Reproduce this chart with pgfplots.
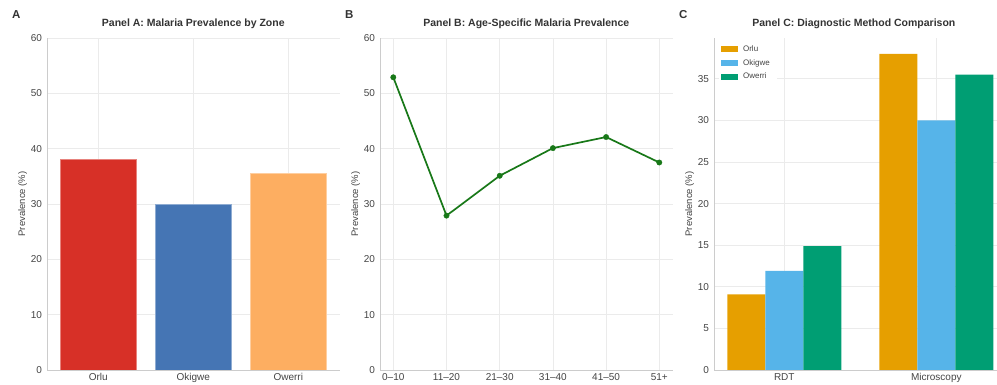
\documentclass[border=0pt]{standalone}
\usepackage{fontspec}
\setmainfont{Liberation Sans}
\usepackage{pgfplots}
\pgfplotsset{compat=1.18}
\definecolor{gridc}{HTML}{EBEBEB}
\definecolor{axc}{HTML}{CCCCCC}
\definecolor{tickc}{HTML}{444444}
\definecolor{titc}{HTML}{333333}
\definecolor{cOrluA}{HTML}{D73027}
\definecolor{cOkigweA}{HTML}{4575B4}
\definecolor{cOwerriA}{HTML}{FDAE61}
\definecolor{lineg}{HTML}{187818}
\definecolor{cOrlu}{HTML}{E69F00}
\definecolor{cOkigwe}{HTML}{56B4E9}
\definecolor{cOwerri}{HTML}{009E73}
\pgfplotsset{
  myaxis/.style={
    scale only axis, width=292.6pt, height=332pt,
    anchor=south west,
    axis x line*=bottom, axis y line*=left,
    axis line style={-, draw=axc, line width=0.8pt},
    major tick length=0pt,
    grid=major, major grid style={draw=gridc, line width=0.8pt},
    tick label style={font=\fontsize{10}{12}\selectfont, text=tickc},
    yticklabel style={xshift=-1.5pt},
    /pgf/number format/assume math mode=true,
    ylabel={Prevalence (\%)},
    ylabel style={font=\fontsize{9.5}{11}\selectfont, text=tickc, at={(axis description cs:-0.083,0.5)}, anchor=center},
    title style={font=\bfseries\fontsize{10.5}{12}\selectfont, text=titc, at={(axis description cs:0.5,1)}, anchor=base, yshift=5pt},
    ymin=0,
  }
}
\begin{document}
\begin{tikzpicture}[x=1pt,y=1pt]
\useasboundingbox (0,0) rectangle (997,385);
% Panel A
\begin{axis}[myaxis, at={(47pt,15pt)},
  title={Panel A: Malaria Prevalence by Zone},
  xmin=-0.54, xmax=2.54, ymax=60, ytick={0,10,20,30,40,50,60},
  xtick={0,1,2}, xticklabels={Orlu,Okigwe,Owerri},
  ybar, bar width=0.8, bar shift=0pt]
\addplot[fill=cOrluA, draw=cOrluA!60!white, line width=0.6pt] coordinates {(0,38.0)};
\addplot[fill=cOkigweA, draw=cOkigweA!60!white, line width=0.6pt] coordinates {(1,30.0)};
\addplot[fill=cOwerriA, draw=cOwerriA!60!white, line width=0.6pt] coordinates {(2,35.5)};
\end{axis}
% Panel B
\begin{axis}[myaxis, at={(380pt,15pt)},
  title={Panel B: Age-Specific Malaria Prevalence},
  xmin=-0.25, xmax=5.25, ymax=60, ytick={0,10,20,30,40,50,60},
  xtick={0,1,2,3,4,5}, xticklabels={0--10,11--20,21--30,31--40,41--50,51+}]
\addplot[lineg, line width=1.7pt, mark=*, mark size=2.7pt, mark options={solid, fill=lineg, draw=lineg, line width=0.4pt}] coordinates {
 (0,52.9) (1,27.9) (2,35.1) (3,40.1) (4,42.1) (5,37.5)};
\end{axis}
% Panel C
\begin{axis}[myaxis, at={(714pt,15pt)},
  title={Panel C: Diagnostic Method Comparison},
  title style={at={(axis description cs:0.478,1)}},
  xmin=-0.4625, xmax=1.4625, ymax=39.9, ytick={0,5,10,15,20,25,30,35},
  xtick={0,1}, xticklabels={RDT,Microscopy},
  ybar, bar width=0.25, bar shift=0pt,
  legend style={at={(axis description cs:0.015,0.99)}, anchor=north west, draw=none, fill=white,
    font=\fontsize{8}{9}\selectfont, text=tickc, row sep=2.5pt, inner sep=2pt,
    nodes={inner xsep=5pt}},
  legend cell align=left,
  legend image code/.code={\fill[#1] (0pt,-2.8pt) rectangle (17.5pt,2.8pt);}]
\addplot[fill=cOrlu, draw=none] coordinates {(-0.25,9.1) (0.75,38.0)};
\addlegendentry{Orlu}
\addplot[fill=cOkigwe, draw=none] coordinates {(0,11.9) (1,30.0)};
\addlegendentry{Okigwe}
\addplot[fill=cOwerri, draw=none] coordinates {(0.25,14.9) (1.25,35.5)};
\addlegendentry{Owerri}
\end{axis}
% Panel letters
\node[font=\bfseries\fontsize{11.5}{13}\selectfont, text=titc, anchor=base west] at (8.5,366.5) {A};
\node[font=\bfseries\fontsize{11.5}{13}\selectfont, text=titc, anchor=base west] at (341.5,366.5) {B};
\node[font=\bfseries\fontsize{11.5}{13}\selectfont, text=titc, anchor=base west] at (675.5,366.5) {C};
\end{tikzpicture}
\end{document}
